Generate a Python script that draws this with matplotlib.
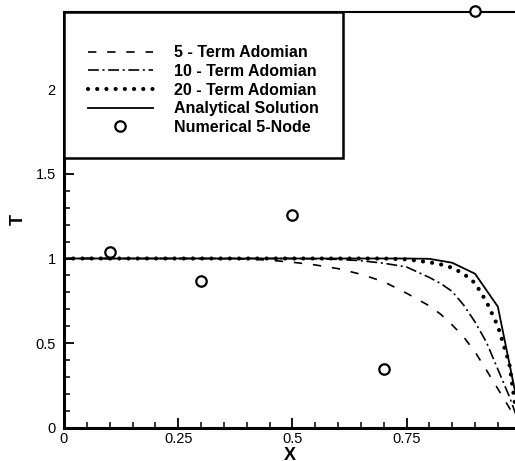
import matplotlib
matplotlib.use("Agg")
import matplotlib.pyplot as plt
from matplotlib.patches import Rectangle
from matplotlib.ticker import MultipleLocator, FixedLocator, FixedFormatter

plt.rcParams['font.family'] = ['Liberation Sans', 'DejaVu Sans']

# ---- data ----
x_ado = [0, 0.1, 0.2, 0.3, 0.4, 0.45, 0.5, 0.55, 0.6, 0.65, 0.7, 0.75, 0.8,
         0.825, 0.85, 0.875, 0.9, 0.925, 0.95, 0.975, 1.0]
T_5 = [1, 1, 1, 1, 0.997, 0.99, 0.978, 0.962, 0.94, 0.907, 0.863, 0.795, 0.72,
       0.67, 0.607, 0.537, 0.448, 0.34, 0.23, 0.118, 0.0]
T_10 = [1, 1, 1, 1, 1, 1, 1, 0.998, 0.995, 0.987, 0.972, 0.95, 0.888,
        0.852, 0.805, 0.725, 0.625, 0.505, 0.345, 0.185, 0.0]
T_20 = [1, 1, 1, 1, 1, 1, 1, 1, 1, 1, 1, 0.995, 0.978,
        0.965, 0.945, 0.91, 0.855, 0.745, 0.60, 0.38, -0.1]
x_an = [0, 0.05, 0.1, 0.15, 0.2, 0.25, 0.3, 0.35, 0.4, 0.45, 0.5, 0.55, 0.6,
        0.65, 0.7, 0.75, 0.8, 0.85, 0.9, 0.95, 1.0]
T_an = [1, 1, 1, 1, 1, 1, 1, 1, 1, 1, 1, 1, 1, 1, 1, 1,
        0.998, 0.975, 0.91, 0.715, 0.05]
x_num = [0.1, 0.3, 0.5, 0.7, 0.9]
T_num = [1.04, 0.867, 1.256, 0.347, 2.46]

xticks = [0, 0.25, 0.5, 0.75]
xticklabels = ['0', '0.25', '0.5', '0.75']
yticks = [0, 0.5, 1, 1.5, 2]
yticklabels = ['0', '0.5', '1', '1.5', '2']

labels = ['5 - Term Adomian', '10 - Term Adomian', '20 - Term Adomian',
          'Analytical Solution', 'Numerical 5-Node']

# ---- figure ----
fig = plt.figure(figsize=(5.15, 4.61), dpi=100)
ax = fig.add_axes([64/515, 1-427.7/461, 1-64/515, (427.7-11.7)/461])

ax.plot(x_ado, T_5, color='black', lw=1.2, linestyle=(0, (5, 6.5)), label=labels[0])
ax.plot(x_ado, T_10, color='black', lw=1.2, linestyle=(0, (6.5, 2.2, 1.2, 2.2)), label=labels[1])
ax.plot(x_ado, T_20, color='black', lw=3.0, linestyle=(0, (0.01, 2.2)),
        dash_capstyle='round', label=labels[2])
ax.plot(x_an, T_an, color='black', lw=1.3, linestyle='-', label=labels[3])
ax.plot(x_num, T_num, linestyle='none', marker='o', markersize=7.5,
        markerfacecolor='white', markeredgecolor='black', markeredgewidth=1.6,
        clip_on=False, zorder=5, label=labels[4])

ax.set_xlim(0, (515-64)/456.7)
ax.set_ylim(0, (427.7-11.7)/169.2)

ax.xaxis.set_major_locator(FixedLocator(xticks))
ax.xaxis.set_major_formatter(FixedFormatter(xticklabels))
ax.xaxis.set_minor_locator(MultipleLocator(0.05))
ax.yaxis.set_major_locator(FixedLocator(yticks))
ax.yaxis.set_major_formatter(FixedFormatter(yticklabels))
ax.yaxis.set_minor_locator(MultipleLocator(0.1))

ax.tick_params(which='major', direction='in', length=7.5, width=1.3, labelsize=10.5, pad=3)
ax.tick_params(which='minor', direction='in', length=4, width=1.1)
ax.tick_params(axis='y', which='major', pad=6)

for s in ['left', 'bottom']:
    ax.spines[s].set_linewidth(2.2)
ax.spines['top'].set_linewidth(1.5)
ax.spines['right'].set_visible(False)

ax.set_xlabel('X', fontsize=13, fontweight='bold', labelpad=1)
ax.set_ylabel('T', fontsize=13, fontweight='bold')
ax.yaxis.set_label_coords(-0.082, 0.5)

# legend frame drawn as a box in axes coordinates
frame = Rectangle((0, 0.6483), 0.6186, 1 - 0.6483, transform=ax.transAxes,
                  facecolor='white', edgecolor='black', lw=1.8, zorder=6,
                  clip_on=False)
ax.add_patch(frame)

leg = ax.legend(loc='upper left', bbox_to_anchor=((88-64)/451, (427.7-45.3)/416),
                borderaxespad=0, borderpad=0, frameon=False,
                prop={'weight': 'bold', 'size': 11.5}, handlelength=4.06,
                handletextpad=1.3, labelspacing=0.23)
leg.set_zorder(7)

fig.savefig('out.png', dpi=100)
